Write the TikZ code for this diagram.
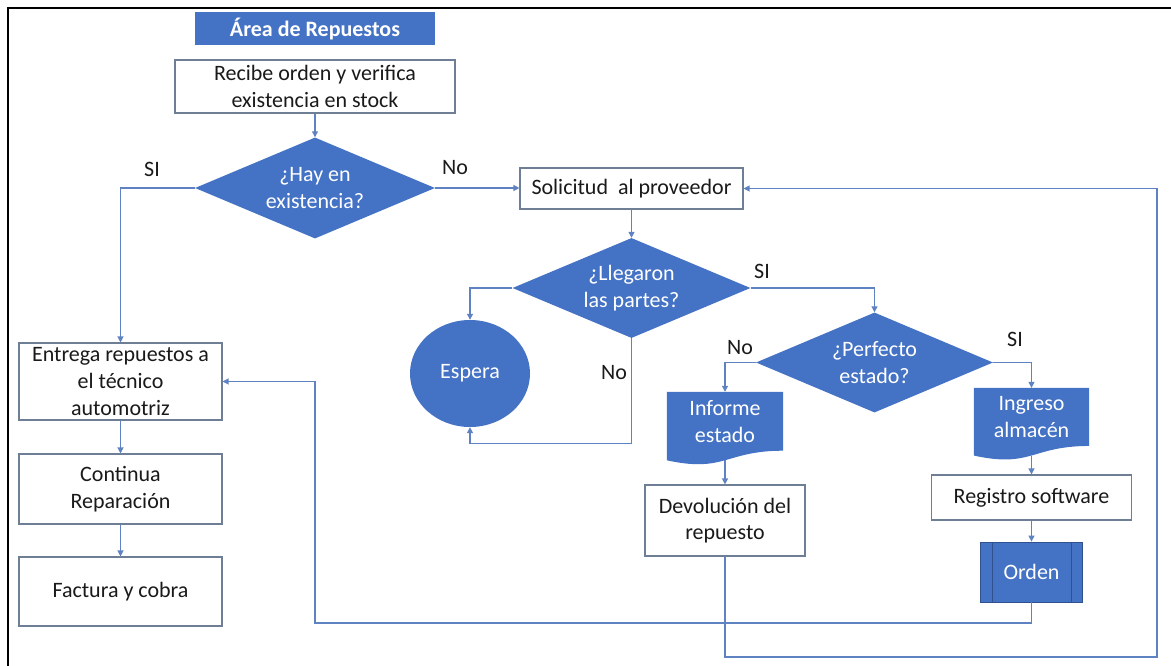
\documentclass[tikz,border=0pt]{standalone}
\usepackage{fontspec}
\setmainfont{Carlito}
\usetikzlibrary{shapes.geometric,arrows.meta,calc,backgrounds}
\definecolor{obl}{HTML}{4472C4}
\definecolor{odk}{HTML}{2F528F}
\definecolor{conn}{HTML}{5F82C2}
\definecolor{bord}{HTML}{6E7E94}
\definecolor{txt}{HTML}{1A1A1A}
\begin{document}
\begin{tikzpicture}[x=1pt,y=-1pt,
  every node/.style={font=\fontsize{22}{26.7}\selectfont, align=center, inner sep=0pt},
  procbox/.style={draw=bord, line width=1.1pt, fill=white, text=txt},
  titlebox/.style={fill=obl, text=white},
  decision/.style={diamond, aspect=2.4, fill=obl, text=white},
  waitnode/.style={ellipse, fill=obl, text=white},
  docnode/.style={rectangle, text=white},
  subproc/.style={rectangle, fill=obl, draw=odk, line width=0.8pt, text=white},
  flow/.style={draw=conn, line width=1.2pt, -{Triangle[length=6pt,width=6pt]}},
  lbl/.style={text=txt},
]
\useasboundingbox (0,0) rectangle (1171,666);

% page frame
\coordinate (fbl) at (8,666);
\coordinate (ftl) at (8,8);
\coordinate (ftr) at (1171,8);
\draw[line width=2.2pt, black] (fbl) -- (ftl) -- (ftr);

% heading
\node[titlebox, minimum width=240pt, minimum height=33pt] (title) at (315,28.5) {\bfseries Área de Repuestos};

% main column
\node[procbox, minimum width=280pt, minimum height=53pt] (recv) at (315,86.5) {Recibe orden y verifica\\existencia en stock};
\node[decision, minimum width=240pt, minimum height=101pt] (hay) at (315,188) {¿Hay en\\existencia?};

% left column
\node[procbox, minimum width=203pt, minimum height=77pt] (ent) at (120.5,381.5) {Entrega repuestos a\\el técnico\\automotriz};
\node[procbox, minimum width=203pt, minimum height=70pt] (cont) at (120.5,489) {Continua\\Reparación};
\node[procbox, minimum width=203pt, minimum height=69pt] (fact) at (120.5,591.5) {Factura y cobra};

% supplier branch
\node[procbox, minimum width=223pt, minimum height=41pt] (sol) at (631.5,188.5) {Solicitud\ \ al proveedor};
\node[decision, minimum width=238pt, minimum height=100pt] (lleg) at (631.5,288) {¿Llegaron\\las partes?};
\node[waitnode, minimum width=120pt, minimum height=107pt] (esp) at (470,373.5) {Espera};
\node[decision, minimum width=237pt, minimum height=100pt] (perf) at (874.5,362.5) {¿Perfecto\\estado?};

\node[docnode, minimum width=116pt, minimum height=58.5pt] (inf) at (725,421.25) {Informe\\estado};
\node[docnode, minimum width=115pt, minimum height=57.7pt] (ing) at (1031.5,416.9) {Ingreso\\almacén};

\node[procbox, minimum width=160pt, minimum height=71pt] (dev) at (725,520.5) {Devolución del\\repuesto};
\node[procbox, minimum width=200pt, minimum height=45pt] (reg) at (1031.5,497.5) {Registro software};
\node[subproc, minimum width=102pt, minimum height=60pt] (orden) at (1031.5,572) {Orden};
\draw[odk, line width=0.8pt] ($(orden.north west)+(12,0)$) -- ($(orden.south west)+(12,0)$);
\draw[odk, line width=0.8pt] ($(orden.north east)+(-12,0)$) -- ($(orden.south east)+(-12,0)$);

% document shapes with wavy bottom edge
\begin{scope}[on background layer]
  \foreach \d in {inf,ing}{
    \fill[obl] (\d.north west) -- (\d.north east) -- (\d.south east)
      .. controls (\d.south) and ($(\d.south)+(0,22.3)$) .. ($(\d.south west)+(0,9.6)$) -- cycle;
  }
\end{scope}
\coordinate (infb) at ($(inf.south)+(0,9.6)$);
\coordinate (ingb) at ($(ing.south)+(0,9.6)$);

% branch labels
\node[lbl] (siA) at (152,169) {SI};
\node[lbl] (noA) at (455,168) {No};
\node[lbl] (siB) at (762,271) {SI};
\node[lbl] (noB) at (614,373) {No};
\node[lbl] (noC) at (740,348) {No};
\node[lbl] (siC) at (1015,339) {SI};

% connectors
\draw[flow] (recv.south) -- (hay.north);
\draw[flow] (hay.west) -| (ent.north);
\draw[flow] (hay.east) -- (hay.east -| sol.west);
\draw[flow] (sol.south) -- (lleg.north);
\draw[flow] (lleg.west) -| (esp.north);
\coordinate (llegdn) at ($(lleg.south)+(0,105)$);
\draw[flow] (lleg.south) -- (llegdn) -| (esp.south);
\draw[flow] (lleg.east) -| (perf.north);
\draw[flow] (perf.west) -| (inf.north);
\draw[flow] (perf.east) -| (ing.north);
\draw[flow] (infb) -- (dev.north);
\draw[flow] (ingb) -- (reg.north);
\draw[flow] (reg.south) -- (orden.north);
\coordinate (ret1) at (1157,657);
\draw[flow] (dev.south) |- (ret1) |- (sol.east);
\coordinate (ret2) at (315,623);
\draw[flow] (orden.south) |- (ret2) |- (ent.east);
\draw[flow] (ent.south) -- (cont.north);
\draw[flow] (cont.south) -- (fact.north);
\end{tikzpicture}
\end{document}
